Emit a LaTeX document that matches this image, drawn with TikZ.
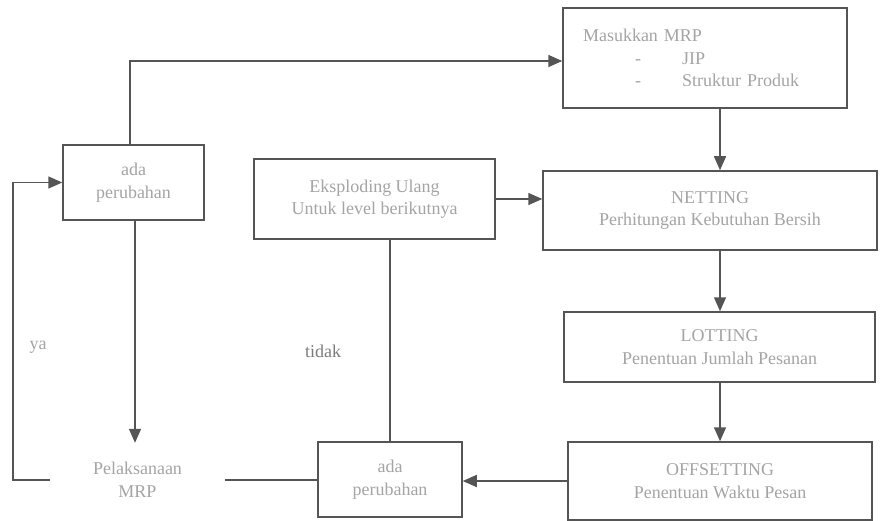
\documentclass[tikz,border=0pt]{standalone}
\usepackage{fontspec}
\setmainfont{Liberation Serif}
\newfontfamily\tms{Liberation Serif}
\usetikzlibrary{arrows.meta}
\definecolor{txtgray}{HTML}{A4A4A4}
\definecolor{linegray}{HTML}{555555}
\begin{document}
\begin{tikzpicture}[x=1pt,y=-1pt,
  every node/.style={font=\tms\fontsize{18}{22.5}\selectfont, text=txtgray},
  boxnode/.style={draw=linegray, line width=1.5pt, align=center, inner sep=0pt},
  conn/.style={draw=linegray, line width=1.5pt},
  arr/.style={conn, -{Triangle[length=14pt,width=12pt]}},
  lbl/.style={font=\tms\fontsize{18}{22.5}\selectfont}
]
\useasboundingbox (0,0) rectangle (880,521);
% boxes
\node[boxnode, minimum width=284, minimum height=100, text width=244, align=left, inner xsep=20pt] (mas) at (705,58)
  {Masukkan MRP\\\hspace*{52pt}\makebox[47pt][l]{-}JIP\\\hspace*{52pt}\makebox[47pt][l]{-}Struktur Produk};
\node[boxnode, minimum width=141, minimum height=75] (lb) at (133.5,182.5) {ada\\perubahan};
\node[boxnode, minimum width=241, minimum height=80] (eks) at (374.5,199) {Eksploding Ulang\\Untuk level berikutnya};
\node[boxnode, minimum width=334, minimum height=79] (net) at (710,210.5) {NETTING\\Perhitungan Kebutuhan Bersih};
\node[boxnode, minimum width=311, minimum height=70] (lot) at (719.5,347) {LOTTING\\Penentuan Jumlah Pesanan};
\node[boxnode, minimum width=304, minimum height=78] (off) at (720,481) {OFFSETTING\\Penentuan Waktu Pesan};
\node[boxnode, minimum width=144, minimum height=75] (bb) at (390,479.5) {ada\\perubahan};
\node[align=center, inner sep=0pt, minimum width=175, minimum height=74] (pel) at (137.5,480) {Pelaksanaan\\MRP};
% labels
\node[lbl] (ya) at (38,347) {ya};
\node[lbl, text=txtgray!75!black] (tidak) at (323,351) {tidak};
% helper coordinates
\coordinate (cx) at (720,0);
\coordinate (lx) at (13,0);
\coordinate (ty) at (0,61);
% connectors
\draw[arr] (lb.north -| 130,0) |- (mas.west |- ty);
\draw[arr] (mas.south -| cx) -- (net.north -| cx);
\draw[arr] (eks.east) -- (eks.east -| net.west);
\draw[arr] (net.south -| cx) -- (lot.north -| cx);
\draw[arr] (lot.south -| cx) -- (off.north -| cx);
\draw[arr] (off.west) -- (bb.east |- off.west);
\draw[conn] (bb.north) -- (bb.north |- eks.south);
\draw[conn] (bb.west |- pel.east) -- (pel.east);
\draw[arr] (pel.west) -| (lx |- lb.west) -- (lb.west);
\draw[arr] (lb.south -| 135,0) -- (pel.north -| 135,0);
\end{tikzpicture}
\end{document}
